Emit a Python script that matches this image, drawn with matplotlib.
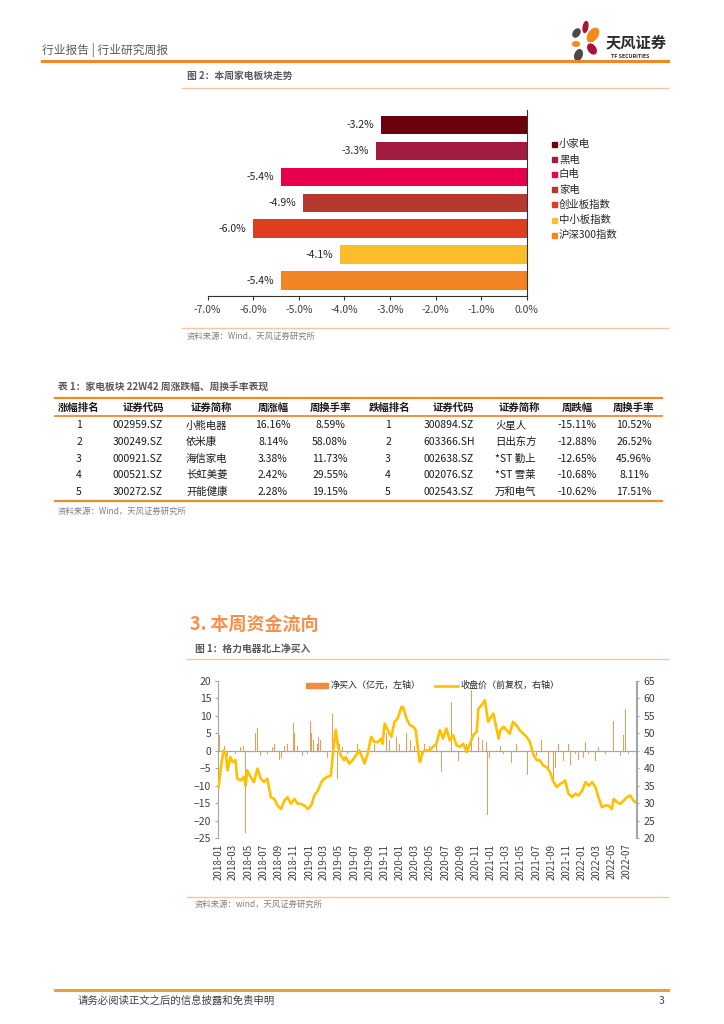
import matplotlib
matplotlib.use('Agg')
import matplotlib.pyplot as plt
from matplotlib.patches import Rectangle, Ellipse
from matplotlib.lines import Line2D
import pandas as pd

plt.rcParams['font.family'] = ['Noto Sans CJK SC', 'DejaVu Sans']

# ---------------- data ----------------
sectors = ['小家电', '黑电', '白电', '家电', '创业板指数', '中小板指数', '沪深300指数']
sector_returns = [-3.2, -3.3, -5.4, -4.9, -6.0, -4.1, -5.4]
sector_colors = ['#6B000F', '#A21C40', '#E8004C', '#B53A2B', '#DE3E1E', '#FBBE2A', '#F28424']
pct_ticks = [-7.0, -6.0, -5.0, -4.0, -3.0, -2.0, -1.0, 0.0]

table_title = '表 1：家电板块 22W42 周涨跌幅、周换手率表现'
up_header = ['涨幅排名', '证券代码', '证券简称', '周涨幅', '周换手率']
down_header = ['跌幅排名', '证券代码', '证券简称', '周跌幅', '周换手率']
up_rank = ['1', '2', '3', '4', '5']
up_code = ['002959.SZ', '300249.SZ', '000921.SZ', '000521.SZ', '300272.SZ']
up_name = ['小熊电器', '依米康', '海信家电', '长虹美菱', '开能健康']
up_chg = ['16.16%', '8.14%', '3.38%', '2.42%', '2.28%']
up_turn = ['8.59%', '58.08%', '11.73%', '29.55%', '19.15%']
down_rank = ['1', '2', '3', '4', '5']
down_code = ['300894.SZ', '603366.SH', '002638.SZ', '002076.SZ', '002543.SZ']
down_name = ['火星人', '日出东方', '*ST 勤上', '*ST 雪莱', '万和电气']
down_chg = ['-15.11%', '-12.88%', '-12.65%', '-10.68%', '-10.62%']
down_turn = ['10.52%', '26.52%', '45.96%', '8.11%', '17.51%']

price_dates = ['2018-01-02', '2018-01-11', '2018-01-22', '2018-02-01', '2018-02-07', '2018-02-18', '2018-02-27',
               '2018-03-11', '2018-03-18', '2018-04-01', '2018-04-14', '2018-04-21', '2018-04-27', '2018-05-11',
               '2018-05-24', '2018-06-07', '2018-06-21', '2018-07-04', '2018-07-17', '2018-07-31', '2018-08-14',
               '2018-08-27', '2018-09-10', '2018-09-23', '2018-10-06', '2018-10-20', '2018-11-03', '2018-11-16',
               '2018-11-29', '2018-12-13', '2018-12-26', '2019-01-09', '2019-01-22', '2019-02-05', '2019-02-19',
               '2019-03-02', '2019-03-15', '2019-03-29', '2019-04-05', '2019-04-18', '2019-04-27', '2019-05-08',
               '2019-05-21', '2019-05-28', '2019-06-11', '2019-06-24', '2019-07-08', '2019-07-21', '2019-08-04',
               '2019-08-11', '2019-08-24', '2019-09-07', '2019-09-20', '2019-10-04', '2019-10-17', '2019-10-23',
               '2019-10-31', '2019-11-13', '2019-11-27', '2019-12-10', '2019-12-23', '2020-01-07', '2020-01-13',
               '2020-01-27', '2020-02-10', '2020-02-23', '2020-03-04', '2020-03-13', '2020-03-20', '2020-04-03',
               '2020-04-16', '2020-04-29', '2020-05-12', '2020-05-26', '2020-06-09', '2020-06-22', '2020-07-05',
               '2020-07-19', '2020-08-01', '2020-08-15', '2020-08-28', '2020-09-11', '2020-09-25', '2020-10-08',
               '2020-10-21', '2020-11-04', '2020-11-11', '2020-11-24', '2020-12-07', '2020-12-20', '2021-01-10',
               '2021-01-31', '2021-02-07', '2021-02-20', '2021-03-04', '2021-03-17', '2021-03-30', '2021-04-13',
               '2021-04-26', '2021-05-10', '2021-05-23', '2021-06-06', '2021-06-19', '2021-07-03', '2021-07-16',
               '2021-07-29', '2021-08-12', '2021-08-26', '2021-09-09', '2021-09-22', '2021-10-05', '2021-10-18',
               '2021-10-25', '2021-11-08', '2021-11-22', '2021-12-05', '2021-12-18', '2022-01-02', '2022-01-15',
               '2022-01-28', '2022-02-11', '2022-02-24', '2022-03-08', '2022-03-22', '2022-04-05', '2022-04-18',
               '2022-05-01', '2022-05-08', '2022-05-21', '2022-06-04', '2022-06-17', '2022-07-01', '2022-07-14',
               '2022-07-27', '2022-08-03']
close_price = [34.6, 39.9, 45.1, 43.7, 39.4, 43.2, 41.8,
               42.3, 37.0, 36.5, 37.5, 35.0, 39.4, 37.5,
               36.0, 39.9, 37.0, 36.0, 37.0, 31.7, 31.2,
               29.3, 28.3, 30.7, 31.7, 29.8, 31.2, 29.8,
               29.8, 29.3, 28.3, 29.3, 32.2, 33.6, 36.0,
               37.0, 37.5, 37.9, 43.2, 51.0, 46.1, 43.7,
               42.3, 43.2, 41.3, 42.3, 43.7, 45.1, 42.8,
               41.3, 44.1, 49.0, 47.5, 47.5, 48.5, 47.0,
               52.8, 50.9, 49.0, 53.3, 54.3, 57.6, 57.6,
               54.3, 52.3, 51.9, 50.9, 45.6, 41.8, 44.8,
               45.1, 45.1, 46.1, 47.0, 50.9, 48.5, 51.4,
               48.0, 49.5, 46.6, 46.1, 47.0, 44.6, 47.0,
               49.5, 50.4, 57.1, 58.1, 59.5, 53.3, 55.7,
               48.5, 50.9, 51.9, 50.9, 49.9, 53.3, 52.3,
               50.9, 49.9, 49.0, 47.5, 44.1, 42.3, 42.3,
               40.8, 40.3, 38.9, 36.0, 34.6, 35.5, 36.0,
               36.5, 32.7, 31.7, 32.7, 32.2, 33.6, 36.0,
               35.0, 36.0, 34.6, 31.7, 28.8, 29.3, 29.3,
               28.3, 31.2, 30.3, 29.8, 30.7, 31.7, 32.2,
               30.7, 30.3]

flow_dates = ['2018-01-02', '2018-01-06', '2018-01-11', '2018-01-25', '2018-02-07', '2018-02-21', '2018-03-01',
              '2018-03-11', '2018-03-18', '2018-04-01', '2018-04-12', '2018-04-21', '2018-04-27', '2018-05-17',
              '2018-05-31', '2018-06-07', '2018-06-14', '2018-06-20', '2018-07-04', '2018-07-17', '2018-07-24',
              '2018-08-07', '2018-08-14', '2018-08-20', '2018-09-03', '2018-09-12', '2018-09-23', '2018-10-06',
              '2018-10-20', '2018-10-30', '2018-11-03', '2018-11-10', '2018-11-16', '2018-11-29', '2018-12-06',
              '2018-12-19', '2018-12-26', '2019-01-06', '2019-01-11', '2019-01-19', '2019-01-25', '2019-02-03',
              '2019-02-08', '2019-02-16', '2019-02-21', '2019-03-02', '2019-03-09', '2019-03-15', '2019-03-22',
              '2019-03-29', '2019-04-05', '2019-04-11', '2019-04-18', '2019-04-25', '2019-05-02', '2019-05-08',
              '2019-05-15', '2019-05-21', '2019-06-04', '2019-06-18', '2019-07-01', '2019-07-14', '2019-07-28',
              '2019-08-17', '2019-09-07', '2019-09-20', '2019-10-04', '2019-10-17', '2019-10-28', '2019-11-07',
              '2019-11-13', '2019-11-20', '2019-12-03', '2019-12-17', '2019-12-30', '2020-01-13', '2020-01-27',
              '2020-02-03', '2020-02-12', '2020-02-23', '2020-02-28', '2020-03-09', '2020-03-17', '2020-03-27',
              '2020-04-09', '2020-04-18', '2020-04-29', '2020-05-12', '2020-05-26', '2020-06-02', '2020-06-09',
              '2020-06-16', '2020-06-22', '2020-07-03', '2020-07-08', '2020-07-16', '2020-07-26', '2020-08-01',
              '2020-08-08', '2020-08-22', '2020-09-01', '2020-09-11', '2020-09-25', '2020-10-08', '2020-10-15',
              '2020-10-21', '2020-11-02', '2020-11-11', '2020-11-18', '2020-11-28', '2020-12-14', '2020-12-17',
              '2020-12-25', '2021-01-04', '2021-01-17', '2021-02-07', '2021-02-20', '2021-03-10', '2021-03-17',
              '2021-03-24', '2021-04-13', '2021-04-19', '2021-05-01', '2021-05-10', '2021-05-17', '2021-05-28',
              '2021-06-06', '2021-06-19', '2021-07-03', '2021-07-16', '2021-07-23', '2021-08-06', '2021-08-19',
              '2021-08-26', '2021-09-02', '2021-09-09', '2021-09-16', '2021-09-29', '2021-10-18', '2021-10-25',
              '2021-11-02', '2021-11-08', '2021-11-15', '2021-11-22', '2021-12-05', '2021-12-18', '2021-12-29',
              '2022-01-08', '2022-01-15', '2022-01-28', '2022-02-11', '2022-02-24', '2022-03-08', '2022-03-22',
              '2022-04-05', '2022-05-01', '2022-05-08', '2022-05-21', '2022-06-04', '2022-06-17', '2022-06-24',
              '2022-07-01', '2022-07-07', '2022-07-20']
net_buy = [8.8, 4.5, -2.0, 1.5, -1.5, 1.5, 3.5,
           -1.0, 2.5, 1.0, 1.5, -23.5, 1.0, 2.0,
           5.0, 6.5, 3.0, -1.5, 1.5, -1.0, 1.5,
           1.0, 2.0, -1.0, -2.5, -2.0, 1.5, 2.0,
           -2.0, 8.0, 5.0, -1.0, 1.5, 2.5, -1.5,
           1.0, -1.0, 8.5, 5.0, 3.0, 5.0, 2.0,
           4.0, 3.0, 2.5, -1.5, 5.5, -2.0, -4.0,
           3.0, 10.5, -5.0, 3.0, -8.0, 2.0, -4.5,
           1.0, 2.0, -1.0, 1.5, -1.0, 2.0, -2.0,
           2.0, 4.5, 2.0, -1.5, 2.0, 15.0, 5.0,
           -2.5, 3.0, -1.5, 4.0, 2.0, -1.5, 5.0,
           -2.0, 3.0, -3.0, 1.5, -4.5, -8.0, -3.0,
           2.0, -2.0, 1.5, -3.0, 2.0, -4.0, 4.0,
           -6.0, 5.5, -5.0, 6.5, -14.5, 14.0, -10.0,
           3.0, -3.0, 3.0, -3.0, 2.0, -1.5, 17.5,
           5.0, -3.0, 4.0, -5.0, 3.0, 2.5, -18.5,
           -2.0, 1.0, -1.0, 1.5, -1.0, 6.0, -3.0,
           -3.5, 2.0, -1.0, 7.0, -2.0, -3.0, -7.0,
           1.5, -1.0, -1.5, 6.0, 3.0, -2.0, -5.0,
           -7.5, -6.0, -9.0, -5.0, 2.0, -3.0, -16.0,
           -6.0, 2.0, -4.0, 1.5, -1.0, -2.5, 2.0,
           -2.0, 2.5, -1.0, 1.5, -3.0, 1.0, -2.5,
           -1.0, 1.0, 8.5, 1.0, -1.5, 4.5, 12.0,
           -5.5, -1.0, 1.0]

left_ticks = [20, 15, 10, 5, 0, -5, -10, -15, -20, -25]
right_ticks = [65, 60, 55, 50, 45, 40, 35, 30, 25, 20]
legend_flow = '净买入（亿元，左轴）'
legend_price = '收盘价（前复权，右轴）'

# ---------------- page helpers ----------------
W, H = 724, 1024
fig = plt.figure(figsize=(7.24, 10.24), dpi=100)
fig.patch.set_facecolor('white')


def fx(x):
    return x / W


def fy(y):
    return 1 - y / H


def axrect(x0, y0, x1, y1):
    return [fx(x0), fy(y1), (x1 - x0) / W, (y1 - y0) / H]


def hline(y, x0, x1, color, lw):
    fig.add_artist(Line2D([fx(x0), fx(x1)], [fy(y), fy(y)], color=color, lw=lw,
                          transform=fig.transFigure))


def ftext(x, y, s, **kw):
    kw.setdefault('va', 'center')
    fig.text(fx(x), fy(y), s, **kw)


ORANGE = '#F08A2C'
LIGHT = '#F7C6A0'
GRAY = '#595959'
FLOW_C = '#F39A55'

# header
ftext(42, 50, '行业报告 | 行业研究周报', fontsize=8.5, color=GRAY)
hline(61, 42, 668, '#F0882A', 2.2)
logo = fig.add_axes(axrect(568, 18, 604, 62))
logo.set_xlim(0, 36)
logo.set_ylim(44, 0)
logo.set_aspect('equal')
logo.axis('off')
for (cx, cy, w, h, ang, col) in [(17.5, 9, 4.5, 11, 10, '#A8123A'), (8.5, 15, 6, 9, 35, '#4A4A4A'),
                                  (25, 17, 9, 15, 35, '#F28A1E'), (8, 26, 7, 4.5, 0, '#F28A1E'),
                                  (24, 31, 7, 11, -35, '#A8123A'), (10.5, 37, 7, 11, 20, '#4A4A4A')]:
    logo.add_patch(Ellipse((cx, cy), w, h, angle=ang, color=col))
ftext(606, 42, '天风证券', fontsize=11, fontweight='bold', color='#2B2B2B')
ftext(611, 56, 'TF SECURITIES', fontsize=3.8, fontweight='bold', color='#2B2B2B')

# figure 2 title
ftext(187, 76, '图 2：本周家电板块走势', fontsize=7, fontweight='bold', color=GRAY)
hline(88, 182, 668, LIGHT, 1.0)

# ---------------- bar chart ----------------
ax = fig.add_axes(axrect(207.7, 110, 526.7, 295.7))
ypos = list(range(len(sectors)))
ax.barh(ypos, sector_returns, height=0.72, color=sector_colors)
ax.set_xlim(-7, 0)
ax.set_ylim(6.58, -0.58)
for sp in ['left', 'top']:
    ax.spines[sp].set_visible(False)
for sp in ['right', 'bottom']:
    ax.spines[sp].set_color('#333333')
    ax.spines[sp].set_linewidth(0.8)
ax.set_yticks([])
ax.set_xticks(pct_ticks)
ax.set_xticklabels([f'{abs(v):.1f}%' if v == 0 else f'{v:.1f}%' for v in pct_ticks])
ax.tick_params(axis='x', length=3, width=0.8, color='#333333', labelsize=7.5,
               labelcolor='#404040', pad=4)
for i, v in enumerate(sector_returns):
    ax.text(v - 0.15, i, f'{v:.1f}%', ha='right', va='center', fontsize=7.5, color='#262626')

for i, (name, col) in enumerate(zip(sectors, sector_colors)):
    yy = 144 + i * 15.2
    fig.add_artist(Rectangle((fx(552), fy(yy + 2.6)), 5 / W, 5 / H, color=col,
                             transform=fig.transFigure))
    ftext(559, yy, name, fontsize=7.5, color='#262626')

hline(328, 182, 668, LIGHT, 1.0)
ftext(187, 336, '资料来源：Wind，天风证券研究所', fontsize=6, color='#7F7F7F')

# ---------------- table ----------------
ftext(58, 387, table_title, fontsize=7, fontweight='bold', color=GRAY)
hline(398, 55, 662, ORANGE, 1.6)
hline(416, 55, 662, ORANGE, 1.3)
hline(501, 55, 662, ORANGE, 1.6)
hdr_y = 407.5
row_y = [425.5, 442.2, 458.5, 475.2, 492.2]

up_cols = [79, 143, 211, 273, 331]
down_cols = [389, 453, 519, 577, 634]
for x, h in zip(up_cols, up_header):
    ftext(x, hdr_y, h, ha='center', fontsize=7.5, fontweight='bold', color='#1A1A1A')
for x, h in zip(down_cols, down_header):
    ftext(x, hdr_y, h, ha='center', fontsize=7.5, fontweight='bold', color='#1A1A1A')

for i in range(5):
    y = row_y[i]
    ftext(79, y, up_rank[i], ha='center', fontsize=7.5, color='#1A1A1A')
    ftext(137.5, y, up_code[i], ha='center', fontsize=7.5, color='#1A1A1A')
    ftext(186, y, up_name[i], ha='left', fontsize=7.5, color='#1A1A1A')
    ftext(273, y, up_chg[i], ha='center', fontsize=7.5, color='#1A1A1A')
    ftext(330, y, up_turn[i], ha='center', fontsize=7.5, color='#1A1A1A')
    ftext(388, y, down_rank[i], ha='center', fontsize=7.5, color='#1A1A1A')
    ftext(449, y, down_code[i], ha='center', fontsize=7.5, color='#1A1A1A')
    ftext(495, y, down_name[i], ha='left', fontsize=7.5, color='#1A1A1A')
    ftext(577, y, down_chg[i], ha='center', fontsize=7.5, color='#1A1A1A')
    ftext(634, y, down_turn[i], ha='center', fontsize=7.5, color='#1A1A1A')

ftext(58, 511, '资料来源：Wind，天风证券研究所', fontsize=6, color='#7F7F7F')

# ---------------- section 3 ----------------
ftext(190, 624, '3. 本周资金流向', fontsize=13, fontweight='bold', color='#F7904A')
ftext(195, 649, '图 1：格力电器北上净买入', fontsize=7, fontweight='bold', color=GRAY)
hline(659, 187, 668, LIGHT, 1.0)

axb = fig.add_axes(axrect(218.3, 681, 636.5, 838))
fd = pd.to_datetime(flow_dates)
pdt = pd.to_datetime(price_dates)
axb.bar(fd, net_buy, width=2.0, color=FLOW_C, linewidth=0, zorder=2)
axb.axhline(0, color='#A6A6A6', lw=0.9, zorder=3)
axb.set_ylim(-25, 20)
axb.set_yticks(left_ticks)
axb.set_xlim(pd.Timestamp('2018-01-01'), pd.Timestamp('2022-08-08'))
xt = pd.date_range('2018-01-01', '2022-07-01', freq='2MS')
axb.set_xticks(xt)
axb.set_xticklabels([d.strftime('%Y-%m') for d in xt], rotation=90, fontsize=7, color='#404040')
axb.tick_params(axis='x', length=0, pad=4)
axb.tick_params(axis='y', length=2, color='#A6A6A6', labelsize=7.5, labelcolor='#404040', pad=3)
for sp in ['top', 'bottom']:
    axb.spines[sp].set_visible(False)
for sp in ['left', 'right']:
    axb.spines[sp].set_color('#A6A6A6')
    axb.spines[sp].set_linewidth(0.8)

ax2 = axb.twinx()
ax2.plot(pdt, close_price, color='#FFC000', lw=1.9, zorder=4)
ax2.set_ylim(20, 65)
ax2.set_yticks(right_ticks)
ax2.tick_params(axis='y', length=2, color='#A6A6A6', labelsize=7.5, labelcolor='#404040', pad=3)
for sp in ['top', 'bottom', 'left']:
    ax2.spines[sp].set_visible(False)
ax2.spines['right'].set_color('#A6A6A6')
ax2.spines['right'].set_linewidth(0.8)

# legend of bottom chart (drawn in figure space)
fig.add_artist(Rectangle((fx(306), fy(688)), 22 / W, 5 / H, color='#F28C3C', transform=fig.transFigure))
ftext(331, 685.5, legend_flow, fontsize=6.5, color='#262626')
fig.add_artist(Line2D([fx(435), fx(458)], [fy(685.5), fy(685.5)], color='#FFC000', lw=1.9,
                      transform=fig.transFigure))
ftext(460, 685.5, legend_price, fontsize=6.5, color='#262626')

hline(897, 187, 668, LIGHT, 1.0)
ftext(195, 904, '资料来源：wind，天风证券研究所', fontsize=6, color='#7F7F7F')

# footer
hline(990, 55, 668, '#F0A030', 2.2)
ftext(78, 1001, '请务必阅读正文之后的信息披露和免责申明', fontsize=7.5, color='#404040')
ftext(664, 1001, '3', ha='right', fontsize=7.5, color='#404040')

fig.savefig('out.png', dpi=100, facecolor='white')
